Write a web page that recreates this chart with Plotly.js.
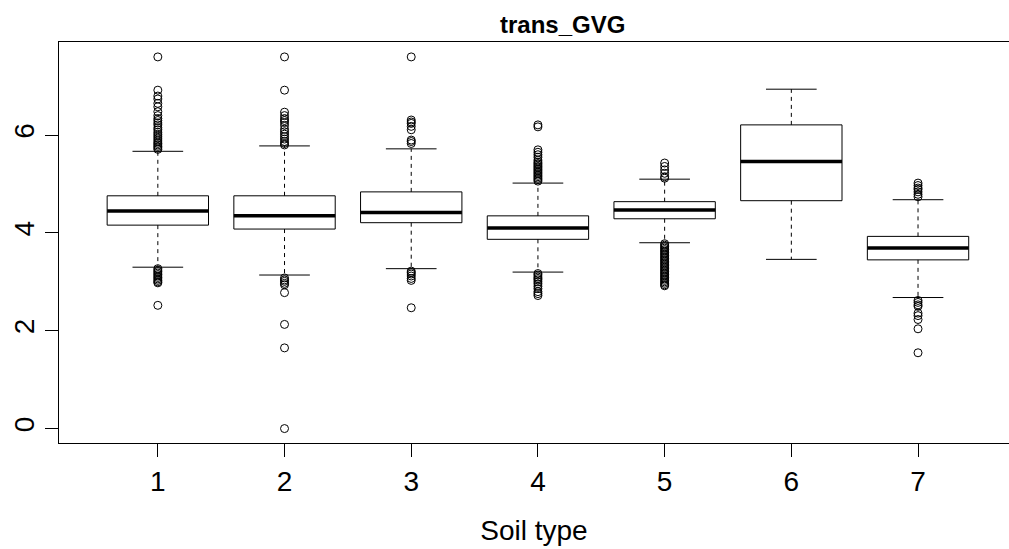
<!DOCTYPE html>
<html>
<head>
<meta charset="utf-8">
<script src="https://cdn.plot.ly/plotly-3.0.1.min.js"></script>
<style>html,body{margin:0;padding:0;background:#fff;}#chart{width:1009px;height:549px;}</style>
</head>
<body>
<div id="chart"></div>
<script>
// ---- Data ----
const categories = ["1", "2", "3", "4", "5", "6", "7"];
const q1 = [4.16, 4.08, 4.21, 3.87, 4.29, 4.66, 3.45];
const median = [4.45, 4.35, 4.42, 4.10, 4.47, 5.46, 3.69];
const q3 = [4.76, 4.76, 4.84, 4.35, 4.64, 6.21, 3.93];
const lowerWhisker = [3.30, 3.14, 3.27, 3.20, 3.80, 3.46, 2.68];
const upperWhisker = [5.67, 5.78, 5.72, 5.02, 5.10, 6.94, 4.68];
const outliers1 = [7.60, 6.92, 6.80, 6.74, 6.65, 6.58, 6.48, 6.40, 6.34, 6.30, 6.25, 6.21, 6.15, 6.11, 6.06, 6.02, 5.98, 5.94, 5.90, 5.86, 5.83, 5.80, 5.77, 5.74, 5.71,
                   3.27, 3.24, 3.21, 3.18, 3.15, 3.12, 3.09, 3.06, 3.03, 3.00, 2.98, 2.52];
const outliers2 = [7.60, 6.92, 6.47, 6.40, 6.34, 6.30, 6.26, 6.20, 6.12, 6.07, 6.02, 5.97, 5.92, 5.87, 5.83, 5.80,
                   3.08, 3.04, 3.01, 2.97, 2.94, 2.78, 2.13, 1.65, 0.00];
const outliers3 = [7.60, 6.31, 6.27, 6.24, 6.18, 6.11, 5.90, 5.87, 5.83,
                   3.22, 3.19, 3.16, 3.12, 3.07, 3.03, 2.47];
const outliers4 = [6.21, 6.17, 5.70, 5.65, 5.60, 5.55, 5.49, 5.45, 5.42, 5.39, 5.36, 5.33, 5.30, 5.27, 5.24, 5.21, 5.18, 5.15, 5.12, 5.09, 5.06,
                   3.17, 3.14, 3.10, 3.07, 3.04, 3.00, 2.96, 2.91, 2.86, 2.80, 2.76, 2.72];
const outliers5 = [5.43, 5.36, 5.29, 5.22, 5.15, 5.12,
                   3.78, 3.75, 3.72, 3.69, 3.66, 3.63, 3.60, 3.57, 3.54, 3.51, 3.48, 3.45, 3.42, 3.39, 3.36, 3.33, 3.30, 3.27, 3.24,
                   3.21, 3.18, 3.15, 3.12, 3.09, 3.06, 3.03, 3.00, 2.97, 2.94, 2.92];
const outliers6 = [];
const outliers7 = [5.02, 4.97, 4.92, 4.89, 4.84, 4.79, 4.74,
                   2.62, 2.58, 2.53, 2.50, 2.36, 2.31, 2.23, 2.04, 1.55];
const outliers = [outliers1, outliers2, outliers3, outliers4, outliers5, outliers6, outliers7];

// ---- Geometry / style ----
const BOX_HALF = 0.4, STAPLE_HALF = 0.2;
const FONT = "Liberation Sans, Arial, Helvetica, sans-serif";

const boxX = [], boxY = [], medX = [], medY = [], whX = [], whY = [], stX = [], stY = [], outX = [], outY = [];
categories.forEach((c, i) => {
  const x = i + 1;
  boxX.push(x - BOX_HALF, x + BOX_HALF, x + BOX_HALF, x - BOX_HALF, x - BOX_HALF, null);
  boxY.push(q1[i], q1[i], q3[i], q3[i], q1[i], null);
  medX.push(x - BOX_HALF, x + BOX_HALF, null);
  medY.push(median[i], median[i], null);
  whX.push(x, x, null, x, x, null);
  whY.push(q3[i], upperWhisker[i], null, q1[i], lowerWhisker[i], null);
  stX.push(x - STAPLE_HALF, x + STAPLE_HALF, null, x - STAPLE_HALF, x + STAPLE_HALF, null);
  stY.push(upperWhisker[i], upperWhisker[i], null, lowerWhisker[i], lowerWhisker[i], null);
  outliers[i].forEach(v => { outX.push(x); outY.push(v); });
});

const traces = [
  {type: "scatter", mode: "lines", x: whX, y: whY, line: {color: "#000", width: 1, dash: "4px,4px"}, hoverinfo: "skip"},
  {type: "scatter", mode: "lines", x: stX, y: stY, line: {color: "#000", width: 1}, hoverinfo: "skip"},
  {type: "scatter", mode: "lines", x: boxX, y: boxY, line: {color: "#000", width: 1}, hoverinfo: "skip"},
  {type: "scatter", mode: "lines", x: medX, y: medY, line: {color: "#000", width: 3.5}, hoverinfo: "skip"},
  {type: "scatter", mode: "markers", x: outX, y: outY,
   marker: {symbol: "circle-open", size: 8, color: "#000", line: {width: 1, color: "#000"}}}
];

const layout = {
  width: 1009, height: 549,
  margin: {l: 59, r: 0, t: 42, b: 106, pad: 0},
  paper_bgcolor: "#fff", plot_bgcolor: "#fff",
  showlegend: false,
  font: {family: FONT, color: "#000"},
  title: {text: "<b>trans_GVG</b>", font: {family: FONT, size: 24, color: "#000"},
          x: 535 / 1009, xanchor: "center", xref: "paper", y: 1 - 25 / 549, yanchor: "middle", yref: "container"},
  xaxis: {
    range: [0.22, 7.718], tickvals: [1, 2, 3, 4, 5, 6, 7], ticktext: categories,
    showline: true, mirror: true, linecolor: "#000", linewidth: 1,
    ticks: "outside", ticklen: 13, tickwidth: 1, tickcolor: "#000",
    showgrid: false, zeroline: false,
    tickfont: {family: FONT, size: 28, color: "#000"},
    title: {text: "Soil type", font: {family: FONT, size: 28, color: "#000"}, standoff: 24},
    automargin: false, fixedrange: true
  },
  yaxis: {
    range: [-0.295, 7.905], tickvals: [0, 2, 4, 6], ticktext: ["0", "2", "4", "6"], tickangle: -90,
    showline: true, mirror: false, linecolor: "#000", linewidth: 1,
    ticks: "outside", ticklen: 13, tickwidth: 1, tickcolor: "#000",
    showgrid: false, zeroline: false,
    tickfont: {family: FONT, size: 28, color: "#000"},
    automargin: false, fixedrange: true
  }
};

Plotly.newPlot("chart", traces, layout, {staticPlot: true, displayModeBar: false});
</script>
</body>
</html>
